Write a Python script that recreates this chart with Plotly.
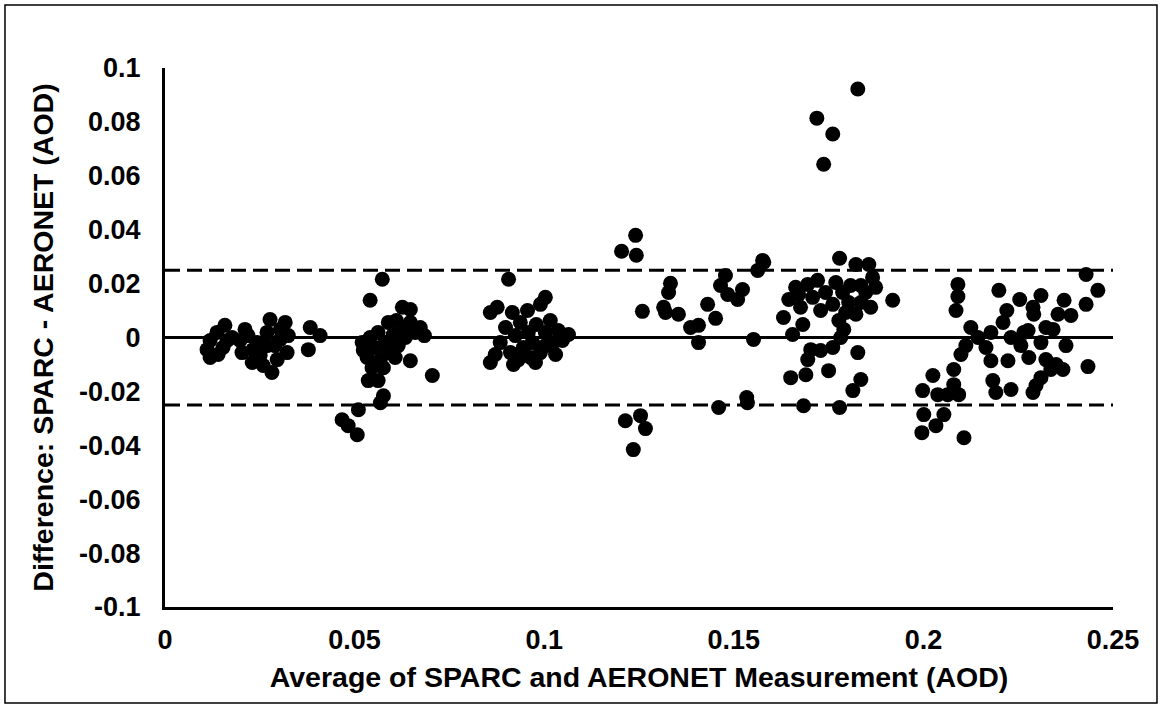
import plotly.graph_objects as go

# ---- data ----
avg_aod = [
    # cluster ~0.01-0.04
    0.0158, 0.0137, 0.0119, 0.0111, 0.0119, 0.0140, 0.0153, 0.0164, 0.0211, 0.0198,
    0.0203, 0.0219, 0.0230, 0.0243, 0.0251, 0.0269, 0.0277, 0.0282, 0.0290, 0.0304,
    0.0317, 0.0322, 0.0296, 0.0259, 0.0232, 0.0304, 0.0269, 0.0383, 0.0409, 0.0378,
    0.0177, 0.0256, 0.0325,
    # cluster ~0.045-0.07
    0.0467, 0.0483, 0.0507, 0.0510, 0.0568, 0.0576, 0.0541, 0.0573, 0.0626, 0.0647,
    0.0705, 0.0647, 0.0523, 0.0536, 0.0562, 0.0520, 0.0533, 0.0546, 0.0554, 0.0562,
    0.0568, 0.0581, 0.0589, 0.0594, 0.0602, 0.0610, 0.0615, 0.0626, 0.0634, 0.0647,
    0.0660, 0.0673, 0.0684, 0.0576, 0.0589, 0.0541, 0.0607,
    # cluster ~0.085-0.105
    0.0906, 0.0858, 0.0876, 0.0916, 0.0956, 0.1003, 0.0990, 0.0858, 0.0919, 0.0977,
    0.1064, 0.0884, 0.0898, 0.0911, 0.0924, 0.0937, 0.0945, 0.0958, 0.0969, 0.0979,
    0.0990, 0.1003, 0.1016, 0.1024, 0.1037, 0.1030, 0.0871, 0.0932, 0.0964, 0.1003,
    0.1048,
    # cluster ~0.12-0.16
    0.1241, 0.1204, 0.1243, 0.1576, 0.1563, 0.1333, 0.1328, 0.1315, 0.1320, 0.1259,
    0.1354, 0.1386, 0.1407, 0.1407, 0.1431, 0.1452, 0.1465, 0.1478, 0.1484, 0.1510,
    0.1523, 0.1552, 0.1214, 0.1254, 0.1267, 0.1235, 0.1460, 0.1534, 0.1536,
    # cluster ~0.16-0.19
    0.1827, 0.1719, 0.1761, 0.1737,
    0.1579, 0.1779, 0.1822, 0.1856, 0.1866, 0.1721, 0.1695, 0.1671, 0.1645, 0.1919,
    0.1631, 0.1682, 0.1655, 0.1729, 0.1761, 0.1787, 0.1808, 0.1835, 0.1835, 0.1861,
    0.1790, 0.1782, 0.1761, 0.1729, 0.1703, 0.1695, 0.1827, 0.1750, 0.1690, 0.1650,
    0.1835, 0.1814, 0.1684, 0.1779, 0.1708, 0.1742, 0.1769, 0.1803, 0.1822, 0.1848,
    0.1795, 0.1777, 0.1874, 0.1676, 0.1663,
    # cluster ~0.2-0.25
    0.2091, 0.2091, 0.2086, 0.2199, 0.2254, 0.2289, 0.2310, 0.2220, 0.2210, 0.2178,
    0.2144, 0.2112, 0.2099, 0.2165, 0.2178, 0.2223, 0.2265, 0.2257, 0.2278, 0.2025,
    0.2080, 0.2080, 0.1998, 0.2038, 0.2064, 0.2093, 0.2183, 0.2191, 0.2231, 0.2289,
    0.2001, 0.2054, 0.2033, 0.1996, 0.2107,
    0.2429, 0.2460, 0.2429, 0.2371, 0.2291, 0.2355, 0.2389, 0.2276, 0.2323, 0.2342,
    0.2376, 0.2310, 0.2323, 0.2350, 0.2368, 0.2336, 0.2310, 0.2297, 0.2434,
    0.2125, 0.2231,
]

diff_aod = [
    0.0045, 0.0019, -0.0011, -0.0045, -0.0074, -0.0063, -0.0037, -0.0011, 0.0030, -0.0011,
    -0.0056, 0.0007, -0.0093, -0.0019, -0.0067, 0.0019, 0.0067, -0.0130, -0.0030, 0.0030,
    0.0056, -0.0056, -0.0082, -0.0104, -0.0045, -0.0007, -0.0030, 0.0037, 0.0007, -0.0045,
    0.0000, -0.0037, 0.0007,
    -0.0305, -0.0327, -0.0361, -0.0268, -0.0242, -0.0216, 0.0138, 0.0216, 0.0112, 0.0104,
    -0.0141, -0.0086, -0.0048, -0.0160, -0.0160, -0.0019, -0.0074, -0.0112, -0.0037, 0.0019,
    -0.0082, -0.0019, 0.0056, -0.0056, 0.0011, 0.0063, -0.0030, 0.0037, 0.0000, 0.0056,
    0.0019, 0.0037, 0.0007, -0.0112, -0.0048, 0.0000, -0.0074,
    0.0216, 0.0093, 0.0112, 0.0093, 0.0100, 0.0149, 0.0123, -0.0093, -0.0100, -0.0093,
    0.0011, -0.0019, 0.0037, -0.0056, 0.0007, 0.0056, -0.0037, 0.0019, -0.0019, 0.0048,
    -0.0056, 0.0019, 0.0063, -0.0019, 0.0026, -0.0063, -0.0063, -0.0082, -0.0074, -0.0030,
    -0.0011,
    0.0379, 0.0320, 0.0305, 0.0286, 0.0249, 0.0201, 0.0167, 0.0112, 0.0093, 0.0097,
    0.0086, 0.0037, 0.0045, -0.0019, 0.0123, 0.0071, 0.0193, 0.0230, 0.0160, 0.0141,
    0.0178, -0.0007, -0.0309, -0.0290, -0.0338, -0.0416, -0.0260, -0.0223, -0.0242,
    0.0922, 0.0814, 0.0755, 0.0643,
    0.0279, 0.0294, 0.0271, 0.0271, 0.0223, 0.0212, 0.0197, 0.0160, 0.0141, 0.0138,
    0.0074, 0.0048, 0.0011, 0.0100, 0.0123, 0.0167, 0.0193, 0.0193, 0.0130, 0.0112,
    0.0030, 0.0000, -0.0037, -0.0048, -0.0045, -0.0082, -0.0056, -0.0123, -0.0138, -0.0149,
    -0.0156, -0.0197, -0.0253, -0.0260, 0.0149, 0.0167, 0.0204, 0.0130, 0.0086, 0.0167,
    0.0093, 0.0063, 0.0186, 0.0112, 0.0186,
    0.0197, 0.0152, 0.0100, 0.0175, 0.0141, 0.0112, 0.0156, 0.0100, 0.0056, 0.0019,
    0.0000, -0.0030, -0.0063, -0.0037, -0.0086, -0.0086, 0.0019, -0.0030, -0.0074, -0.0141,
    -0.0119, -0.0175, -0.0197, -0.0212, -0.0212, -0.0212, -0.0160, -0.0204, -0.0193, -0.0204,
    -0.0286, -0.0286, -0.0327, -0.0353, -0.0372,
    0.0234, 0.0175, 0.0123, 0.0138, 0.0086, 0.0086, 0.0082, 0.0026, 0.0037, 0.0030,
    -0.0030, -0.0019, -0.0082, -0.0100, -0.0119, -0.0119, -0.0149, -0.0178, -0.0108,
    0.0037, 0.0000,
]

mean_bias = 0.0
upper_limit = 0.025
lower_limit = -0.025

x_tickvals = [0, 0.05, 0.1, 0.15, 0.2, 0.25]
x_ticktext = ["0", "0.05", "0.1", "0.15", "0.2", "0.25"]
y_tickvals = [0.1, 0.08, 0.06, 0.04, 0.02, 0, -0.02, -0.04, -0.06, -0.08, -0.1]
y_ticktext = ["0.1", "0.08", "0.06", "0.04", "0.02", "0", "-0.02", "-0.04", "-0.06", "-0.08", "-0.1"]

FONT = "Liberation Sans, Arial, sans-serif"
TICK_SIZE = 27
TITLE_SIZE = 28.5

fig = go.Figure()
fig.add_trace(go.Scatter(
    x=avg_aod, y=diff_aod, mode="markers",
    marker=dict(size=15, color="black", line=dict(width=0)),
    showlegend=False, hoverinfo="x+y",
))

fig.add_shape(type="line", xref="paper", yref="y", x0=0, x1=1, y0=mean_bias, y1=mean_bias,
              line=dict(color="black", width=3), layer="below")
for lim in (upper_limit, lower_limit):
    fig.add_shape(type="line", xref="paper", yref="y", x0=0, x1=1, y0=lim, y1=lim,
                  line=dict(color="black", width=3, dash="15px,7px"), layer="below")

# outer border of the chart
fig.add_shape(type="rect", xref="paper", yref="paper",
              x0=-0.1688, x1=1.0464, y0=-0.1781, y1=1.1169,
              line=dict(color="black", width=1.5), fillcolor="rgba(0,0,0,0)")

fig.update_layout(
    width=1161, height=705,
    margin=dict(l=165, r=48, t=68, b=98),
    paper_bgcolor="white", plot_bgcolor="white",
    font=dict(family=FONT, size=TICK_SIZE, color="black"),
    xaxis=dict(
        range=[0, 0.25], tickvals=x_tickvals, ticktext=x_ticktext,
        showgrid=False, zeroline=False, showline=True, linecolor="black", linewidth=3,
        ticks="", ticklabelstandoff=7,
        tickfont=dict(family=FONT, size=TICK_SIZE, weight="bold"),
        title=dict(text="<b>Average of SPARC and AERONET Measurement (AOD)</b>",
                   font=dict(family=FONT, size=TITLE_SIZE), standoff=13),
    ),
    yaxis=dict(
        range=[-0.1, 0.1], tickvals=y_tickvals, ticktext=y_ticktext,
        showgrid=False, zeroline=False,
        showline=True, linecolor="black", linewidth=3,
        ticks="", ticklabelstandoff=16,
        tickfont=dict(family=FONT, size=TICK_SIZE, weight="bold"),
        title=dict(text="<b>Difference: SPARC - AERONET (AOD)</b>",
                   font=dict(family=FONT, size=TITLE_SIZE), standoff=18),
    ),
)

fig.write_html("out.html", config={"displayModeBar": False},
               post_script="document.body.style.margin='0px';")
